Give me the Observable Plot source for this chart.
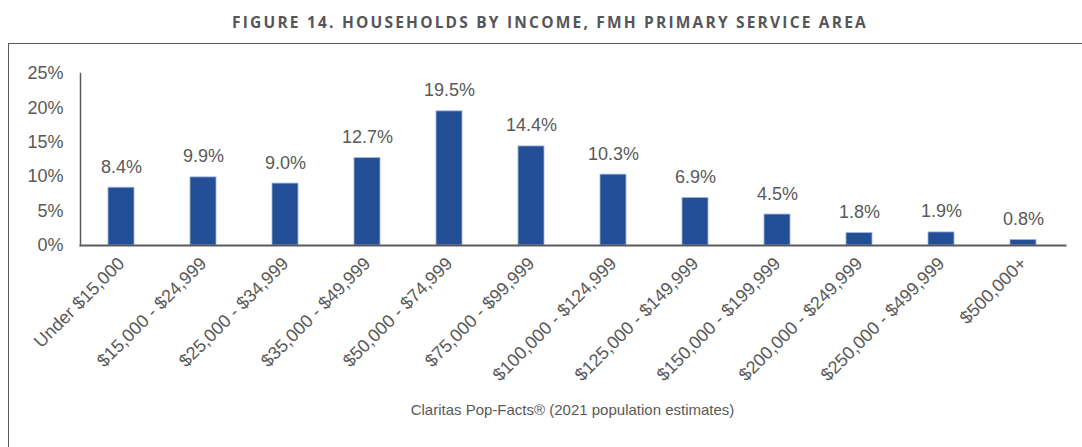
<!DOCTYPE html>
<html>
<head>
<meta charset="utf-8">
<script src="https://cdn.jsdelivr.net/npm/d3@7"></script>
<script src="https://cdn.jsdelivr.net/npm/@observablehq/plot@0.6"></script>
<style>
  html, body { margin: 0; padding: 0; background: #fff; width: 1082px; height: 447px; overflow: hidden; }
  #wrap { position: relative; width: 1082px; height: 447px; }
  #title { position: absolute; left: 9px; top: 0; width: 1082px; height: 44px; line-height: 44px; text-align: center;
    font-family: "Open Sans", sans-serif; font-weight: 700; font-size: 15.5px; letter-spacing: 2.2px; color: #55565a; }
  #frame { position: absolute; left: 8px; top: 43px; width: 1090px; height: 420px;
    border-top: 1.5px solid #5a5a5e; border-left: 1.5px solid #5a5a5e; }
  #chart { position: absolute; left: 0; top: 44px; }
  #caption { position: absolute; left: 80px; width: 985px; top: 400px; line-height: 20px; text-align: center;
    font-family: "Liberation Sans", Arial, sans-serif; font-size: 15px; color: #595959; }
</style>
</head>
<body>
<div id="wrap">
  <div id="title">FIGURE 14. HOUSEHOLDS BY INCOME, FMH PRIMARY SERVICE AREA</div>
  <div id="frame"></div>
  <div id="chart"></div>
  <div id="caption">Claritas Pop-Facts® (2021 population estimates)</div>
</div>
<script>
const categories = [
  "Under $15,000", "$15,000 - $24,999", "$25,000 - $34,999", "$35,000 - $49,999",
  "$50,000 - $74,999", "$75,000 - $99,999", "$100,000 - $124,999", "$125,000 - $149,999",
  "$150,000 - $199,999", "$200,000 - $249,999", "$250,000 - $499,999", "$500,000+"
];
const shares = [8.4, 9.9, 9.0, 12.7, 19.5, 14.4, 10.3, 6.9, 4.5, 1.8, 1.9, 0.8];
const yTicks = [0, 5, 10, 15, 20, 25];

const data = categories.map((c, i) => ({category: c, share: shares[i]}));

const chart = Plot.plot({
  width: 1082,
  height: 351,
  marginTop: 29,
  marginBottom: 150,
  marginLeft: 80,
  marginRight: 17,
  style: {fontFamily: "'Liberation Sans', Arial, sans-serif", fontSize: "18px", color: "#595959", background: "transparent"},
  x: {domain: categories, paddingInner: 0.68, paddingOuter: 0.34, label: null},
  y: {domain: [0, 25], label: null},
  marks: [
    Plot.axisY({ticks: yTicks, tickFormat: d => d + "%", tickSize: 0, tickPadding: 17, fontSize: 18, label: null}),
    Plot.axisX({tickRotate: -45, tickSize: 0, tickPadding: 15, fontSize: 18, label: null}),
    Plot.barY(data, {x: "category", y: "share", fill: "#234f96", stroke: "#9fb5dc", strokeWidth: 0.8}),
    Plot.text(data, {x: "category", y: "share", text: d => d.share.toFixed(1) + "%", dy: -15, lineAnchor: "bottom", fontSize: 18, fill: "#595959"}),
    Plot.frame({anchor: "left", stroke: "#5a5a5e", strokeWidth: 1.5}),
    Plot.frame({anchor: "bottom", stroke: "#5a5a5e", strokeWidth: 2})
  ]
});
document.getElementById("chart").appendChild(chart);
</script>
</body>
</html>
